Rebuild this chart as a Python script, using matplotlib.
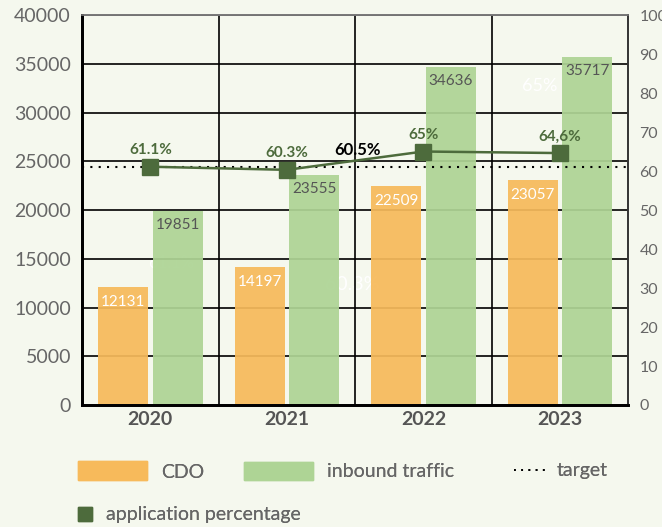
import matplotlib.pyplot as plt
from matplotlib.patches import Patch
from matplotlib.lines import Line2D

plt.rcParams['font.family'] = ['Lato', 'DejaVu Sans']

years = ['2020', '2021', '2022', '2023']
cdo = [12131, 14197, 22509, 23057]
inbound = [19851, 23555, 34636, 35717]
app_pct = [61.1, 60.3, 65.0, 64.6]
pct_labels = ['61.1%', '60.3%', '65%', '64,6%']
target = 61.0

bg = '#F5F8EE'
orange = '#F7BA5B'
green = '#AED495'
dark_green = '#4D6B3C'
gray = '#666666'

fig = plt.figure(figsize=(6.62, 5.27), dpi=100, facecolor=bg)
ax = fig.add_axes([0.124, 0.2315, 0.825, 0.74])
ax.set_facecolor(bg)
ax2 = ax.twinx()

x = list(range(len(years)))
w = 0.366
off = 0.2

# grid first, bars on top slightly translucent
for yv in range(5000, 40001, 5000):
    ax.axhline(yv, color='black', lw=1.2, zorder=1)
for xv in [0.5, 1.5, 2.5]:
    ax.axvline(xv, color='black', lw=1.2, zorder=1)

# leftover white labels (mostly hidden behind bars)
ax.text(0.15, 14600, '61.1%', color='white', fontsize=12, ha='center', va='center', zorder=0.5)
ax.text(1.48, 12320, '60.3%', color='white', fontsize=14, ha='center', va='center', zorder=0.5)
ax.text(2.855, 32720, '65%', color='white', fontsize=13, ha='center', va='center', zorder=0.5)

ax.bar([i - off for i in x], cdo, width=w, color=orange, alpha=0.93, zorder=2)
ax.bar([i + off for i in x], inbound, width=w, color=green, alpha=0.93, zorder=2)

for i, v in enumerate(cdo):
    ax.annotate(str(v), (i - off, v), xytext=(0, -11), textcoords='offset points',
                ha='center', va='center', color='white', fontsize=11, zorder=5)
for i, v in enumerate(inbound):
    ax.annotate(str(v), (i + off, v), xytext=(0, -10), textcoords='offset points',
                ha='center', va='center', color='#555555', fontsize=11, zorder=5)

ax.set_xlim(-0.5, 3.5)
ax.set_ylim(0, 40000)
ax.set_yticks(range(0, 40001, 5000))
ax.set_xticks(x)
ax.set_xticklabels(years, fontsize=14, fontweight='bold', color='#555555')
ax.tick_params(axis='y', labelsize=14, labelcolor=gray, length=0, pad=8)
ax.tick_params(axis='x', length=0, pad=4)

ax2.set_ylim(0, 100)
ax2.set_yticks(range(0, 101, 10))
ax2.tick_params(axis='y', labelsize=11.5, labelcolor=gray, length=0, pad=8)

ax2.axhline(target, color='black', ls=(0, (1, 3)), lw=1.5, zorder=3)
ax2.plot(x, app_pct, color=dark_green, lw=1.8, marker='s', markersize=11, zorder=4)
for i, v in enumerate(app_pct):
    ax2.annotate(pct_labels[i], (i, v), xytext=(0, 12), textcoords='offset points',
                 ha='center', va='center', color=dark_green, fontsize=11, fontweight='bold')
ax2.text(1.515, 65.4, '60.5%', color='black', fontsize=12, fontweight='bold',
         ha='center', va='center')

for a in (ax, ax2):
    a.spines['left'].set_linewidth(2)
    a.spines['left'].set_color('black')
    a.spines['bottom'].set_linewidth(2)
    a.spines['bottom'].set_color('black')
    a.spines['top'].set_color('#777777')
    a.spines['top'].set_linewidth(1.2)
    a.spines['right'].set_color('#333333')
    a.spines['right'].set_linewidth(1.2)

# legend: one small legend per item so each sits where the reference has it
items = [
    (Patch(color=orange), 'CDO', 0.1178, 0.1063, 3.55, 1.13, 0.72),
    (Patch(color=green), 'inbound traffic', 0.3686, 0.1063, 3.55, 1.05, 0.72),
    (Line2D([], [], color='black', ls=(0, (1, 3)), lw=1.3), 'target', 0.7764, 0.1063, 1.8, 0.7, 0.41),
    (Line2D([], [], color=dark_green, marker='s', ls='none', markersize=10),
     'application percentage', 0.1178, 0.0228, 0.72, 0.7, 0.72),
]
for h, lab, lx, ly, hl, hh, tp in items:
    leg = fig.legend([h], [lab], loc='center left', bbox_to_anchor=(lx, ly),
                     frameon=False, fontsize=14, labelcolor=gray, handlelength=hl,
                     handleheight=hh, handletextpad=tp, borderpad=0, borderaxespad=0)
    fig.add_artist(leg)

fig.savefig('out.png', dpi=100, facecolor=bg)
